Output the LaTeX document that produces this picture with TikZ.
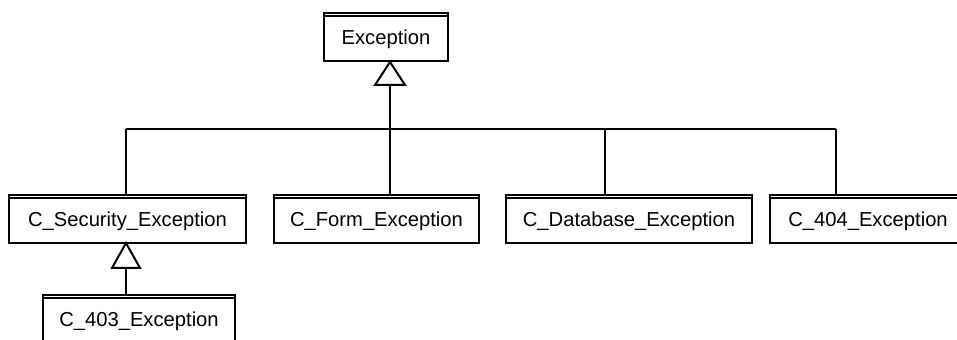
\documentclass[tikz,border=0pt]{standalone}
\usepackage{fontspec}
\setmainfont{Liberation Sans}
\begin{document}
\begin{tikzpicture}[x=0.5pt,y=-0.5pt,
  cls/.style={draw, line width=1pt, rectangle, inner sep=0pt, outer sep=0pt,
    minimum height=24pt},
  clsname/.style={font=\fontsize{10.1}{12}\selectfont, inner sep=0pt},
  link/.style={line width=1pt},
  gen/.style={line width=1pt, fill=white, line join=miter}]
  \useasboundingbox (0,0) rectangle (957,340);
  \clip (0,0) rectangle (957,340);

  % class boxes
  \node[cls, minimum width=62pt]    (exc) at (386,37)  {};
  \node[cls, minimum width=118.5pt] (sec) at (127.5,219) {};
  \node[cls, minimum width=102.5pt] (frm) at (376.5,219) {};
  \node[cls, minimum width=123pt]   (db)  at (629,219) {};
  \node[cls, minimum width=98pt]    (nf)  at (868,219) {};
  \node[cls, minimum width=96pt]    (fb)  at (139,319) {};

  % second line under each box top
  \foreach \n in {exc,sec,frm,db,nf,fb}
    \draw[line width=0.8pt] ([yshift=-1.6pt]\n.north west) -- ([yshift=-1.6pt]\n.north east);

  % class names
  \node[clsname] (excT) at ([yshift=-1.2pt]exc.center) {Exception};
  \node[clsname] (secT) at ([yshift=-1.2pt]sec.center) {C\_Security\_Exception};
  \node[clsname] (frmT) at ([yshift=-1.2pt]frm.center) {C\_Form\_Exception};
  \node[clsname] (dbT)  at ([yshift=-1.2pt]db.center)  {C\_Database\_Exception};
  \node[clsname] (nfT)  at ([yshift=-1.2pt]nf.center)  {C\_404\_Exception};
  \node[clsname] (fbT)  at ([yshift=-1.2pt]fb.center)  {C\_403\_Exception};

  % generalisation tree
  \coordinate (apex) at (390,62);
  \coordinate (base) at (390,85);
  \coordinate (b1) at (126,129);
  \coordinate (b2) at (390,129);
  \coordinate (b3) at (605,129);
  \coordinate (b4) at (836,129);
  \draw[link] (b1) -- (b4);
  \draw[link] (base) -- (b2);
  \draw[link] (b1) -- (b1 |- sec.north);
  \draw[link] (b2) -- (b2 |- frm.north);
  \draw[link] (b3) -- (b3 |- db.north);
  \draw[link] (b4) -- (b4 |- nf.north);
  \draw[gen] (apex) -- ++(-15,23) -- ++(30,0) -- cycle;

  \coordinate (apex2) at (126,243);
  \coordinate (base2) at (126,268);
  \draw[link] (base2) -- (base2 |- fb.north);
  \draw[gen] (apex2) -- ++(-14,25) -- ++(28,0) -- cycle;
\end{tikzpicture}
\end{document}
